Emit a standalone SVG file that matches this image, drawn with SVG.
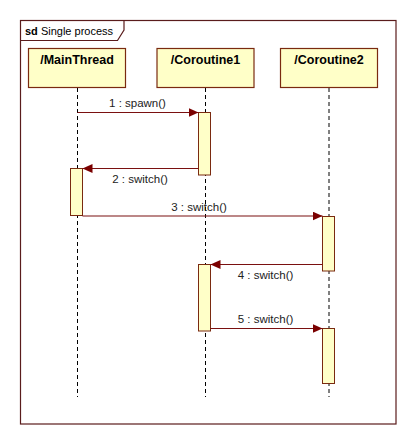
<svg xmlns="http://www.w3.org/2000/svg" width="416" height="444" viewBox="0 0 416 444">
<style>
.frame{fill:none;stroke:#5a1c1c;stroke-width:1.2}
.box{fill:#ffffc8;stroke:#7a2a10;stroke-width:1.2}
.act{fill:#ffffc8;stroke:#7a2a10;stroke-width:1}
.life{stroke:#000;stroke-width:1;stroke-dasharray:4,3;fill:none}
.msg{stroke:#7a1010;stroke-width:1.2;fill:none}
.ttl{font-family:"Liberation Sans",Arial,sans-serif;font-size:12.5px;font-weight:bold;fill:#000}
.lbl{font-family:"Liberation Sans",Arial,sans-serif;font-size:11.5px;fill:#222}
</style>
<defs>
<marker id="ah" viewBox="0 0 10 9" refX="10" refY="4.5" markerWidth="10" markerHeight="9" markerUnits="userSpaceOnUse" orient="auto">
<path d="M0,0 L10,4.5 L0,9 Z" fill="#7a0000"/>
</marker>
</defs>
<rect x="0" y="0" width="416" height="444" fill="#fff"/>
<g id="frame">
<rect class="frame" x="20.5" y="20.5" width="375.5" height="403.5"/>
<path class="frame" d="M20.5,40.5 H117.5 L124,30 V20.5"/>
<text x="25" y="34.5" style="font-family:'Liberation Sans',Arial,sans-serif;font-size:11px;fill:#000"><tspan font-weight="bold">sd</tspan> Single process</text>
</g>
<g id="lifelines">
<line class="life" x1="77.5" y1="88" x2="77.5" y2="397"/>
<line class="life" x1="205.5" y1="88" x2="205.5" y2="397"/>
<line class="life" x1="329" y1="88" x2="329" y2="397"/>
</g>
<g id="MainThread">
<rect class="box" x="28.5" y="48.5" width="97" height="39"/>
<text class="ttl" x="77" y="63.5" text-anchor="middle">/MainThread</text>
<rect class="act" x="70.5" y="168.5" width="12" height="47"/>
</g>
<g id="Coroutine1">
<rect class="box" x="157" y="48.5" width="97" height="39"/>
<text class="ttl" x="205.5" y="63.5" text-anchor="middle">/Coroutine1</text>
<rect class="act" x="198.5" y="112.5" width="12" height="62.5"/>
<rect class="act" x="198.5" y="264.5" width="12" height="66.5"/>
</g>
<g id="Coroutine2">
<rect class="box" x="280.5" y="48.5" width="97" height="39"/>
<text class="ttl" x="329" y="63.5" text-anchor="middle">/Coroutine2</text>
<rect class="act" x="322.5" y="216.5" width="12" height="54.5"/>
<rect class="act" x="322.5" y="328.5" width="12" height="55"/>
</g>
<g id="connectors">
<line class="msg" x1="77.5" y1="112.5" x2="198.5" y2="112.5" marker-end="url(#ah)"/>
<text class="lbl" x="137.5" y="106.5" text-anchor="middle">1 : spawn()</text>
<line class="msg" x1="198.5" y1="168.5" x2="82.5" y2="168.5" marker-end="url(#ah)"/>
<text class="lbl" x="140" y="183" text-anchor="middle">2 : switch()</text>
<line class="msg" x1="82.5" y1="216" x2="322.5" y2="216" marker-end="url(#ah)"/>
<text class="lbl" x="199" y="210.5" text-anchor="middle">3 : switch()</text>
<line class="msg" x1="322.5" y1="264.5" x2="210.5" y2="264.5" marker-end="url(#ah)"/>
<text class="lbl" x="265.5" y="278.5" text-anchor="middle">4 : switch()</text>
<line class="msg" x1="210.5" y1="328.5" x2="322.5" y2="328.5" marker-end="url(#ah)"/>
<text class="lbl" x="265.5" y="322.5" text-anchor="middle">5 : switch()</text>
</g>
</svg>
